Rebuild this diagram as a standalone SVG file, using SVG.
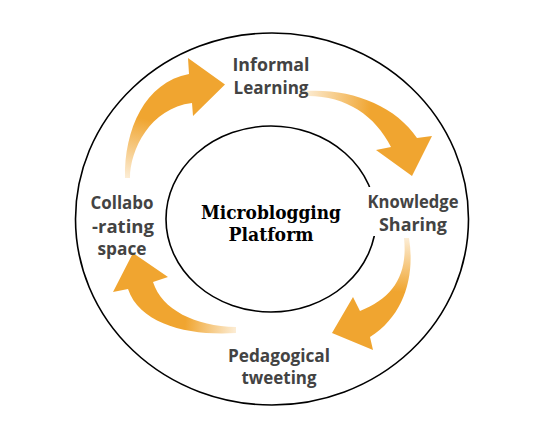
<svg xmlns="http://www.w3.org/2000/svg" width="537" height="423" viewBox="0 0 537 423">
<style>
.ring{fill:none;stroke:#000;stroke-width:1.6}
.lbl{font-family:"Open Sans","DejaVu Sans",sans-serif;font-weight:700;font-size:18px;fill:#434343;text-anchor:middle}
.ctr{font-family:"DejaVu Serif","Liberation Serif",serif;font-weight:bold;font-size:18.5px;fill:#000;text-anchor:middle}
</style>
<defs>
<linearGradient id="g1" gradientUnits="userSpaceOnUse" x1="127" y1="178" x2="140" y2="118">
<stop offset="0" stop-color="#F0A530" stop-opacity="0.2"/><stop offset="1" stop-color="#F0A530"/>
</linearGradient>
<linearGradient id="g2" gradientUnits="userSpaceOnUse" x1="305" y1="93" x2="372" y2="100">
<stop offset="0" stop-color="#F0A530" stop-opacity="0.2"/><stop offset="1" stop-color="#F0A530"/>
</linearGradient>
<linearGradient id="g3" gradientUnits="userSpaceOnUse" x1="407" y1="238" x2="405" y2="292">
<stop offset="0" stop-color="#F0A530" stop-opacity="0.2"/><stop offset="1" stop-color="#F0A530"/>
</linearGradient>
<linearGradient id="g4" gradientUnits="userSpaceOnUse" x1="236" y1="330" x2="185" y2="326">
<stop offset="0" stop-color="#F0A530" stop-opacity="0.2"/><stop offset="1" stop-color="#F0A530"/>
</linearGradient>
</defs>
<rect width="537" height="423" fill="#fff"/>
<g id="rings">
<ellipse class="ring" cx="272" cy="219" rx="196.5" ry="186"/>
<ellipse class="ring" cx="271" cy="219" rx="105" ry="93"/>
</g>
<g id="connectors">
<path fill="url(#g1)" d="M125,178 C124,130 145,82 189,74 L188,58 L225,84.5 L193,116 L192,103 C150,108 130,150 130,178 Z"/>
<path fill="url(#g2)" d="M305,91 C350,88 395,105 417,138 L432,136 L412,176 L376,150 L391,147 C375,115 345,95 305,96 Z"/>
<path fill="url(#g3)" d="M409,238 C415,275 405,315 370,337 L373,350 L332,333 L353,297 L360,311 C393,298 408,275 404,238 Z"/>
<path fill="url(#g4)" d="M236,333 C190,336 140,325 128,289 L113,292 L133,253 L168,277 L153,282 C162,310 195,326 236,327 Z"/>
</g>
<g id="center">
<text class="ctr" x="271" y="219" textLength="140" lengthAdjust="spacingAndGlyphs">Microblogging</text>
<text class="ctr" x="271" y="241" textLength="85" lengthAdjust="spacingAndGlyphs">Platform</text>
</g>
<g id="informal">
<text class="lbl" x="271" y="71" textLength="77" lengthAdjust="spacingAndGlyphs">Informal</text>
<text class="lbl" x="271" y="94" textLength="75" lengthAdjust="spacingAndGlyphs">Learning</text>
</g>
<g id="knowledge">
<rect x="364" y="187" width="94" height="49" fill="#fff"/>
<text class="lbl" x="413" y="208" textLength="91" lengthAdjust="spacingAndGlyphs">Knowledge</text>
<text class="lbl" x="413" y="231" textLength="68" lengthAdjust="spacingAndGlyphs">Sharing</text>
</g>
<g id="pedagogical">
<text class="lbl" x="279" y="362" textLength="102" lengthAdjust="spacingAndGlyphs">Pedagogical</text>
<text class="lbl" x="279" y="384" textLength="75" lengthAdjust="spacingAndGlyphs">tweeting</text>
</g>
<g id="collabo">
<text class="lbl" x="122" y="209" textLength="63" lengthAdjust="spacingAndGlyphs">Collabo</text>
<text class="lbl" x="123" y="233" textLength="62" lengthAdjust="spacingAndGlyphs">-rating</text>
<text class="lbl" x="122" y="255" textLength="49" lengthAdjust="spacingAndGlyphs">space</text>
</g>
</svg>
